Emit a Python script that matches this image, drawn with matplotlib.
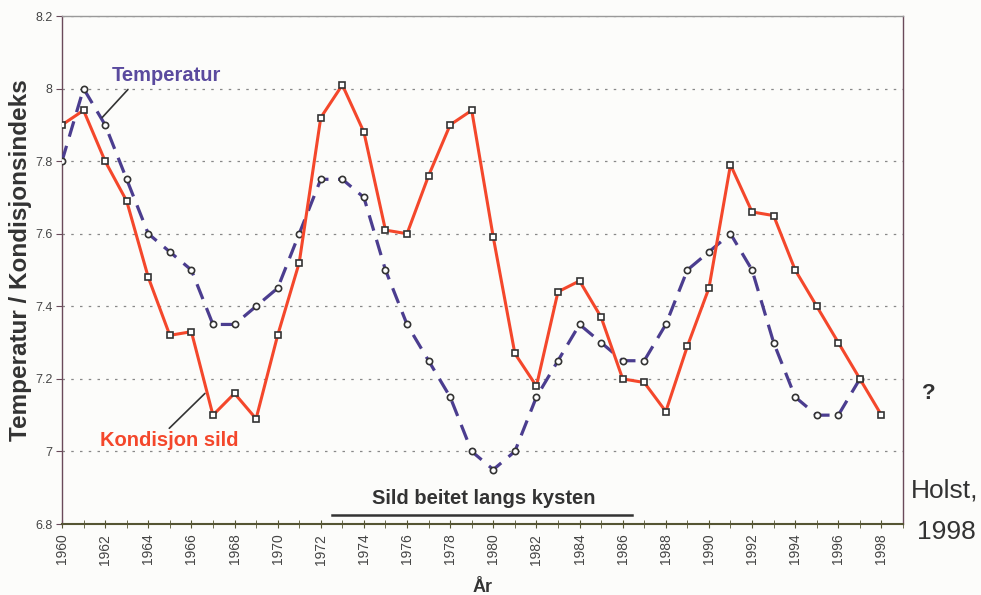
import numpy as np
import matplotlib.pyplot as plt

plt.rcParams['font.family'] = ['Liberation Sans', 'DejaVu Sans']

# values
years_kond = list(range(1960, 1999))
kondisjon = [7.90, 7.94, 7.80, 7.69, 7.48, 7.32, 7.33, 7.10, 7.16, 7.09,
             7.32, 7.52, 7.92, 8.01, 7.88, 7.61, 7.60, 7.76, 7.90, 7.94,
             7.59, 7.27, 7.18, 7.44, 7.47, 7.37, 7.20, 7.19, 7.11, 7.29,
             7.45, 7.79, 7.66, 7.65, 7.50, 7.40, 7.30, 7.20, 7.10]

years_temp = list(range(1960, 1998))
temperatur = [7.80, 8.00, 7.90, 7.75, 7.60, 7.55, 7.50, 7.35, 7.35, 7.40,
              7.45, 7.60, 7.75, 7.75, 7.70, 7.50, 7.35, 7.25, 7.15, 7.00,
              6.95, 7.00, 7.15, 7.25, 7.35, 7.30, 7.25, 7.25, 7.35, 7.50,
              7.55, 7.60, 7.50, 7.30, 7.15, 7.10, 7.10, 7.20]

y_ticks = [6.8, 7.0, 7.2, 7.4, 7.6, 7.8, 8.0, 8.2]
y_labels = ['6.8', '7', '7.2', '7.4', '7.6', '7.8', '8', '8.2']
x_labels = list(range(1960, 1999, 2))

red = '#f4472b'
blue = '#4b3d8f'
frame = '#6a4a5a'

fig = plt.figure(figsize=(9.81, 5.95), dpi=100, facecolor='#fcfcfa')
ax = fig.add_axes([0.0632, 0.1193, 0.8573, 0.8538])
ax.set_facecolor('#fcfcfa')

# temperature, dashed
ax.plot(years_temp, temperatur, color=blue, lw=2.3, dashes=(5, 3),
        marker='o', ms=4.5, mfc='white', mec='#333333', mew=1.2, zorder=3)
# condition index, solid
ax.plot(years_kond, kondisjon, color=red, lw=2.2,
        marker='s', ms=5, mfc='white', mec='#333333', mew=1.2, zorder=4)

ax.set_xlim(1960, 1999)
ax.set_ylim(6.8, 8.2)
ax.set_yticks(y_ticks)
ax.set_yticklabels(y_labels, fontsize=9, color='#444444')
ax.set_xticks(x_labels)
ax.set_xticks(range(1960, 2000), minor=True)
ax.set_xticklabels([str(v) for v in x_labels], rotation=90, fontsize=10,
                   color='#444444')
ax.tick_params(axis='x', which='both', direction='inout', length=6,
               color='#555533', pad=4)
ax.tick_params(axis='y', direction='out', length=4, color=frame, pad=3)
ax.grid(axis='y', linestyle=(0, (2, 5)), color='#888888', lw=0.9)

for s in ax.spines.values():
    s.set_color(frame)
    s.set_linewidth(1.0)
ax.spines['bottom'].set_color('#555533')
ax.spines['bottom'].set_linewidth(1.5)
ax.spines['top'].set_color('#999999')

ax.set_ylabel('Temperatur / Kondisjonsindeks', fontsize=17.5, fontweight='bold',
              color='#333333')
ax.yaxis.set_label_coords(-0.036, 0.52)
ax.set_xlabel('År', fontsize=13, fontweight='bold', color='#333333',
              labelpad=10)

# annotations
ax.annotate('Temperatur', xy=(1961.86, 7.92), xytext=(1962.3, 8.037),
            fontsize=14.5, fontweight='bold', color='#5a4a9e',
            ha='left', va='center',
            arrowprops=dict(arrowstyle='-', color='#333333', lw=1.2,
                            shrinkA=2, shrinkB=0,
                            relpos=(0.19, 0.0)))
ax.annotate('Kondisjon sild', xy=(1966.63, 7.16), xytext=(1961.76, 7.03),
            fontsize=14.5, fontweight='bold', color=red,
            ha='left', va='center',
            arrowprops=dict(arrowstyle='-', color='#333333', lw=1.2,
                            shrinkA=0, shrinkB=0,
                            relpos=(0.48, 1.0)))
ax.text(1979.55, 6.87, 'Sild beitet langs kysten', fontsize=14.5,
        fontweight='bold', color='#333333', ha='center', va='center')
ax.plot([1972.5, 1986.45], [6.825, 6.825], color='#333333', lw=1.8,
        clip_on=False, zorder=5)

fig.text(0.947, 0.338, '?', fontsize=16, fontweight='bold', color='#333333',
         ha='center', va='center')
fig.text(0.929, 0.176, 'Holst,', fontsize=19, color='#333333',
         ha='left', va='center')
fig.text(0.935, 0.106, '1998', fontsize=19, color='#333333',
         ha='left', va='center')

fig.savefig('out.png', dpi=100, facecolor=fig.get_facecolor())
